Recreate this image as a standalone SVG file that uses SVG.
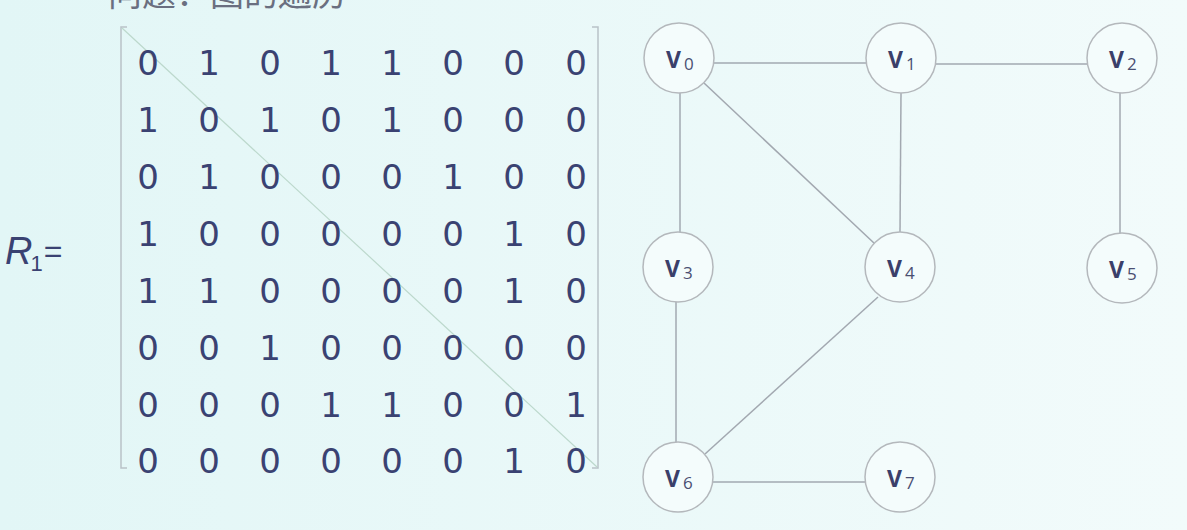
<svg xmlns="http://www.w3.org/2000/svg" width="1187" height="530" viewBox="0 0 1187 530">
<defs>
<linearGradient id="bg" x1="0" y1="0" x2="1" y2="0">
<stop offset="0" stop-color="#e2f6f6"/>
<stop offset="1" stop-color="#f2fbfb"/>
</linearGradient>
</defs>
<style>
.d{font-family:"DejaVu Sans",sans-serif;font-size:34px;fill:#3a4272;text-anchor:middle}
.br{fill:none;stroke:#b9c2c8;stroke-width:1.5}
.n{fill:#f4fcfc;stroke:#b4b8bc;stroke-width:1.5}
.e{stroke:#a2a8b0;stroke-width:1.5;fill:none}
.lv{font-family:"Open Sans","DejaVu Sans",sans-serif;font-size:23px;font-weight:bold;fill:#3a3f6a}
.ls{font-family:"Open Sans","DejaVu Sans",sans-serif;font-size:17px;fill:#4a4f72}
</style>
<rect width="1187" height="530" fill="url(#bg)"/>
<text x="108" y="6" font-family="'Noto Sans CJK SC',sans-serif" font-size="34" fill="#6a6f80">问题：图的遍历</text>
<g id="matrix">
<path class="br" d="M127,27 H121 V468 H127"/>
<path class="br" d="M592,27 H598 V468 H592"/>
<line x1="122" y1="28" x2="597" y2="467" stroke="#bcd8cc" stroke-width="1.2"/>
<g class="d">
<text x="148" y="75">0</text><text x="209" y="75">1</text><text x="270" y="75">0</text><text x="331" y="75">1</text><text x="392" y="75">1</text><text x="453" y="75">0</text><text x="514" y="75">0</text><text x="576" y="75">0</text>
<text x="148" y="132">1</text><text x="209" y="132">0</text><text x="270" y="132">1</text><text x="331" y="132">0</text><text x="392" y="132">1</text><text x="453" y="132">0</text><text x="514" y="132">0</text><text x="576" y="132">0</text>
<text x="148" y="189">0</text><text x="209" y="189">1</text><text x="270" y="189">0</text><text x="331" y="189">0</text><text x="392" y="189">0</text><text x="453" y="189">1</text><text x="514" y="189">0</text><text x="576" y="189">0</text>
<text x="148" y="246">1</text><text x="209" y="246">0</text><text x="270" y="246">0</text><text x="331" y="246">0</text><text x="392" y="246">0</text><text x="453" y="246">0</text><text x="514" y="246">1</text><text x="576" y="246">0</text>
<text x="148" y="303">1</text><text x="209" y="303">1</text><text x="270" y="303">0</text><text x="331" y="303">0</text><text x="392" y="303">0</text><text x="453" y="303">0</text><text x="514" y="303">1</text><text x="576" y="303">0</text>
<text x="148" y="360">0</text><text x="209" y="360">0</text><text x="270" y="360">1</text><text x="331" y="360">0</text><text x="392" y="360">0</text><text x="453" y="360">0</text><text x="514" y="360">0</text><text x="576" y="360">0</text>
<text x="148" y="417">0</text><text x="209" y="417">0</text><text x="270" y="417">0</text><text x="331" y="417">1</text><text x="392" y="417">1</text><text x="453" y="417">0</text><text x="514" y="417">0</text><text x="576" y="417">1</text>
<text x="148" y="473">0</text><text x="209" y="473">0</text><text x="270" y="473">0</text><text x="331" y="473">0</text><text x="392" y="473">0</text><text x="453" y="473">0</text><text x="514" y="473">1</text><text x="576" y="473">0</text>
</g>
</g>
<g id="label-R1">
<text x="5" y="264" font-family="'Liberation Sans',sans-serif" font-size="38" fill="#3a4272"><tspan font-style="italic">R</tspan><tspan font-size="22" dx="-2" dy="7">1</tspan><tspan font-size="32" dx="1" dy="-9">=</tspan></text>
</g>
<g id="edges">
<line class="e" x1="714" y1="63" x2="866" y2="63"/>
<line class="e" x1="936" y1="64" x2="1087" y2="64"/>
<line class="e" x1="680" y1="93" x2="680" y2="232"/>
<line class="e" x1="704" y1="83" x2="875" y2="244"/>
<line class="e" x1="901" y1="93" x2="900" y2="232"/>
<line class="e" x1="1120" y1="93" x2="1120" y2="233"/>
<line class="e" x1="676" y1="302" x2="676" y2="442"/>
<line class="e" x1="878" y1="297" x2="705" y2="454"/>
<line class="e" x1="713" y1="482" x2="865" y2="482"/>
</g>
<g id="V0"><circle class="n" cx="679" cy="58" r="35"/><text class="lv" x="666" y="68">V</text><text class="ls" x="684" y="70">0</text></g>
<g id="V1"><circle class="n" cx="901" cy="58" r="35"/><text class="lv" x="888" y="68">V</text><text class="ls" x="906" y="70">1</text></g>
<g id="V2"><circle class="n" cx="1122" cy="58" r="35"/><text class="lv" x="1109" y="68">V</text><text class="ls" x="1127" y="70">2</text></g>
<g id="V3"><circle class="n" cx="678" cy="267" r="35"/><text class="lv" x="665" y="277">V</text><text class="ls" x="683" y="279">3</text></g>
<g id="V4"><circle class="n" cx="900" cy="267" r="35"/><text class="lv" x="887" y="277">V</text><text class="ls" x="905" y="279">4</text></g>
<g id="V5"><circle class="n" cx="1122" cy="268" r="35"/><text class="lv" x="1109" y="278">V</text><text class="ls" x="1127" y="280">5</text></g>
<g id="V6"><circle class="n" cx="678" cy="477" r="35"/><text class="lv" x="665" y="487">V</text><text class="ls" x="683" y="489">6</text></g>
<g id="V7"><circle class="n" cx="900" cy="477" r="35"/><text class="lv" x="887" y="487">V</text><text class="ls" x="905" y="489">7</text></g>
</svg>
